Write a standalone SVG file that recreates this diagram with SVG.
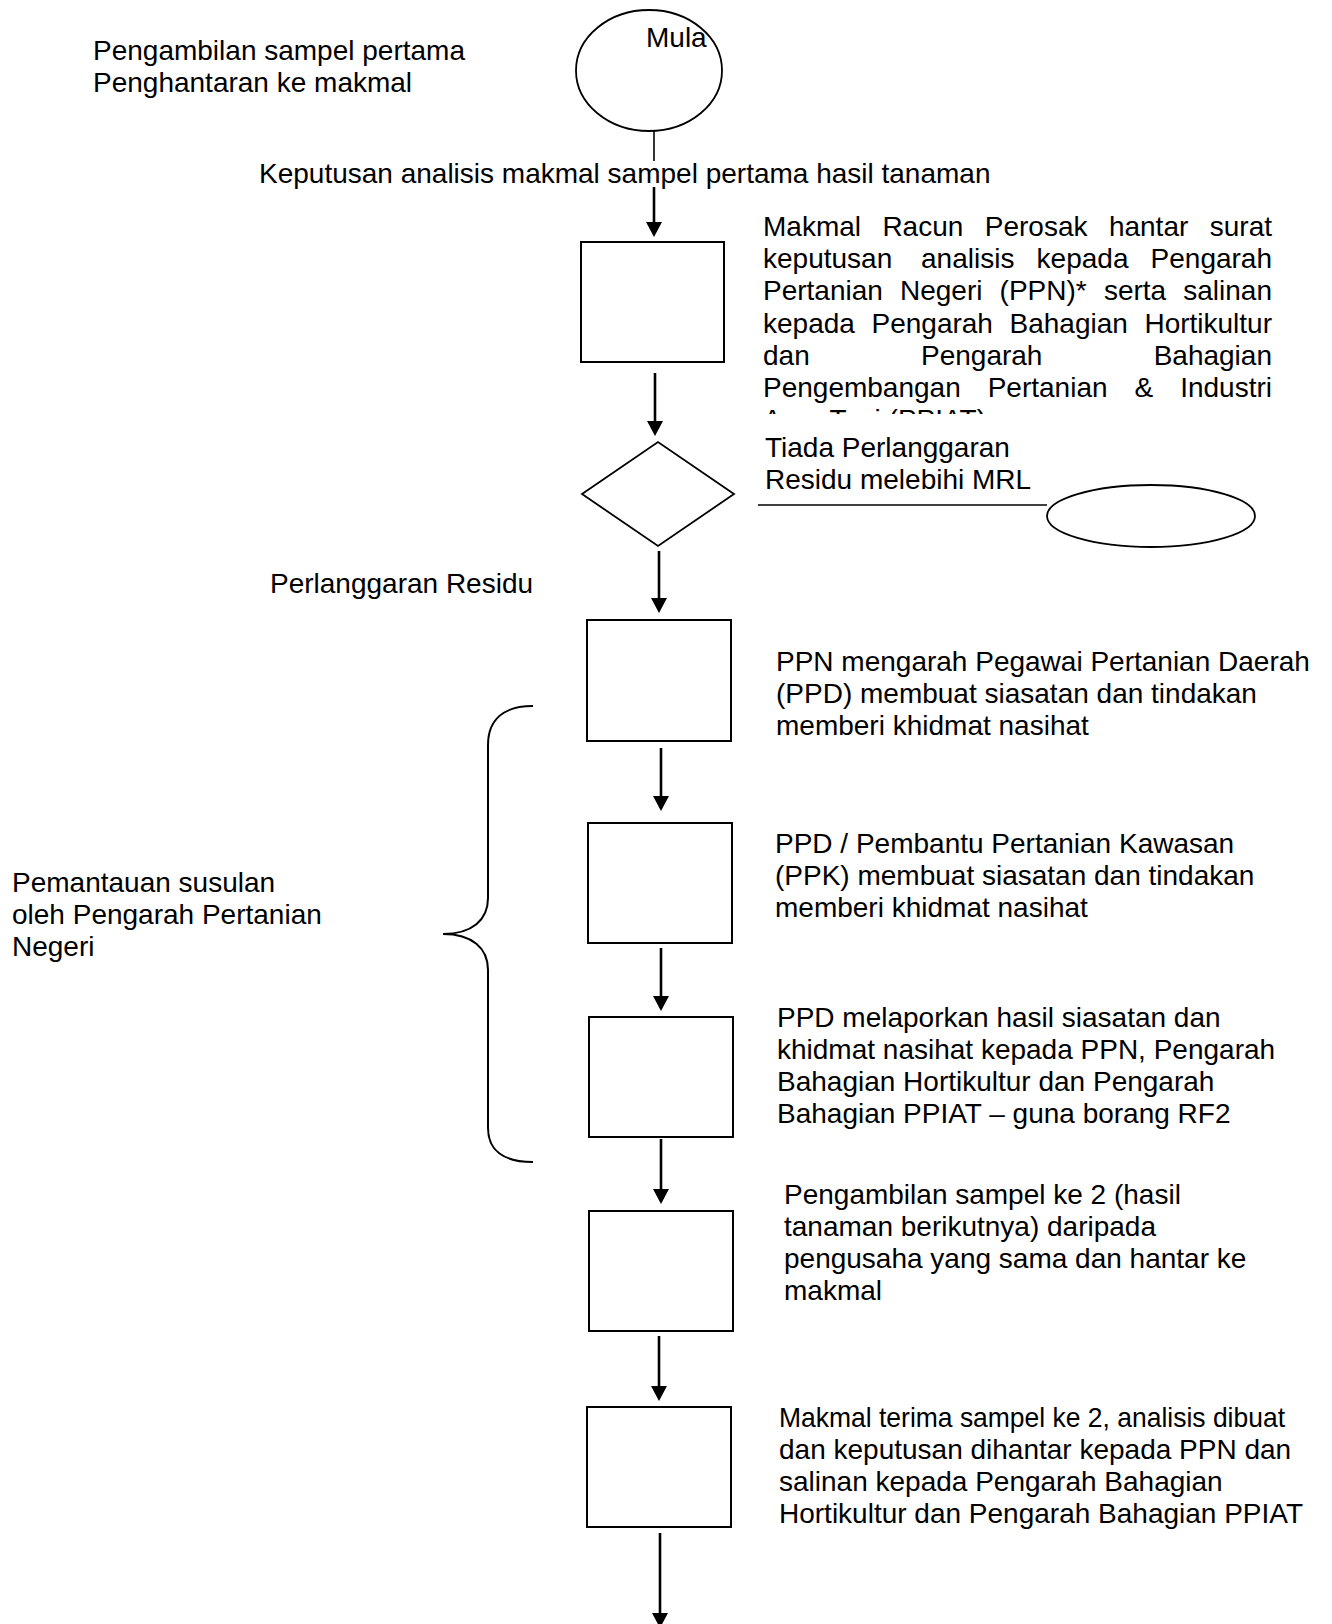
<svg xmlns="http://www.w3.org/2000/svg" width="1332" height="1624" viewBox="0 0 1332 1624">
<style>
text{font-family:"Liberation Sans",Arial,sans-serif;font-size:28px;fill:#000}
.box{fill:#fff;stroke:#000;stroke-width:2}
.shape{fill:#fff;stroke:#000;stroke-width:1.8}
.ln{stroke:#000;stroke-width:2.6;fill:none}
.thin{stroke:#000;stroke-width:1.6;fill:none}
.head{fill:#000}
.e{text-anchor:end}
</style>
<defs>
<clipPath id="clip1"><rect x="740" y="195" width="560" height="219"/></clipPath>
</defs>
<rect width="1332" height="1624" fill="#fff"/>

<g id="connectors">
<line class="thin" x1="654" y1="131" x2="654" y2="161"/>
<line class="ln" x1="654" y1="187" x2="654" y2="224"/><polygon class="head" points="646,222 662,222 654,237"/>
<line class="ln" x1="655" y1="373" x2="655" y2="423"/><polygon class="head" points="647,421 663,421 655,436"/>
<line class="thin" x1="758" y1="505" x2="1047" y2="505"/>
<line class="ln" x1="659" y1="551" x2="659" y2="600"/><polygon class="head" points="651,598 667,598 659,613"/>
<line class="ln" x1="661" y1="748" x2="661" y2="798"/><polygon class="head" points="653,796 669,796 661,811"/>
<line class="ln" x1="661" y1="948" x2="661" y2="998"/><polygon class="head" points="653,996 669,996 661,1011"/>
<line class="ln" x1="661" y1="1139" x2="661" y2="1191"/><polygon class="head" points="653,1189 669,1189 661,1204"/>
<line class="ln" x1="659" y1="1336" x2="659" y2="1388"/><polygon class="head" points="651,1386 667,1386 659,1401"/>
<line class="ln" x1="660" y1="1533" x2="660" y2="1615"/><polygon class="head" points="652,1613 668,1613 660,1628"/>
</g>

<g id="note-top">
<text x="93" y="60">Pengambilan sampel pertama</text>
<text x="93" y="92">Penghantaran ke makmal</text>
</g>

<g id="start">
<ellipse class="shape" cx="649" cy="70.5" rx="73" ry="60.5"/>
<text x="646" y="47">Mula</text>
</g>

<g id="label-keputusan">
<text x="259" y="183">Keputusan analisis makmal sampel pertama hasil tanaman</text>
</g>

<g id="box1">
<rect class="box" x="581" y="242" width="143" height="120"/>
<g clip-path="url(#clip1)">
<text x="763" y="236">Makmal</text><text x="882.4" y="236">Racun</text><text x="984.8" y="236">Perosak</text><text x="1108.9" y="236">hantar</text><text class="e" x="1272" y="236">surat</text>
<text x="763" y="268.2">keputusan</text><text x="921" y="268.2">analisis</text><text x="1036.6" y="268.2">kepada</text><text class="e" x="1272" y="268.2">Pengarah</text>
<text x="763" y="300.4">Pertanian</text><text x="900" y="300.4">Negeri</text><text x="999.6" y="300.4">(PPN)*</text><text x="1103.9" y="300.4">serta</text><text class="e" x="1272" y="300.4">salinan</text>
<text x="763" y="332.6">kepada</text><text x="871.5" y="332.6">Pengarah</text><text x="1009.5" y="332.6">Bahagian</text><text class="e" x="1272" y="332.6">Hortikultur</text>
<text x="763" y="364.8">dan</text><text x="921" y="364.8">Pengarah</text><text class="e" x="1272" y="364.8">Bahagian</text>
<text x="763" y="397">Pengembangan</text><text x="987.7" y="397">Pertanian</text><text x="1134.5" y="397">&amp;</text><text class="e" x="1272" y="397">Industri</text>
<text x="763" y="429.2">Agro Tani (PPIAT)</text>
</g>
</g>

<g id="decision">
<polygon class="shape" points="582,494 658,442 734,494 658,546"/>
<text x="765" y="457">Tiada Perlanggaran</text>
<text x="765" y="489">Residu melebihi MRL</text>
</g>

<g id="end-right">
<ellipse class="shape" cx="1151" cy="516" rx="104" ry="31"/>
</g>

<g id="label-perlanggaran">
<text x="270" y="593">Perlanggaran Residu</text>
</g>

<g id="box2">
<rect class="box" x="587" y="620" width="144" height="121"/>
<text x="776" y="671">PPN mengarah Pegawai Pertanian Daerah</text>
<text x="776" y="703">(PPD) membuat siasatan dan tindakan</text>
<text x="776" y="735">memberi khidmat nasihat</text>
</g>

<g id="box3">
<rect class="box" x="588" y="823" width="144" height="120"/>
<text x="775" y="853">PPD / Pembantu Pertanian Kawasan</text>
<text x="775" y="885">(PPK) membuat siasatan dan tindakan</text>
<text x="775" y="917">memberi khidmat nasihat</text>
</g>

<g id="box4">
<rect class="box" x="589" y="1017" width="144" height="120"/>
<text x="777" y="1027">PPD melaporkan hasil siasatan dan</text>
<text x="777" y="1059">khidmat nasihat kepada PPN, Pengarah</text>
<text x="777" y="1091">Bahagian Hortikultur dan Pengarah</text>
<text x="777" y="1123">Bahagian PPIAT – guna borang RF2</text>
</g>

<g id="box5">
<rect class="box" x="589" y="1211" width="144" height="120"/>
<text x="784" y="1204">Pengambilan sampel ke 2 (hasil</text>
<text x="784" y="1236">tanaman berikutnya) daripada</text>
<text x="784" y="1268">pengusaha yang sama dan hantar ke</text>
<text x="784" y="1300">makmal</text>
</g>

<g id="box6">
<rect class="box" x="587" y="1407" width="144" height="120"/>
<text x="779" y="1427" textLength="506" lengthAdjust="spacingAndGlyphs">Makmal terima sampel ke 2, analisis dibuat</text>
<text x="779" y="1459">dan keputusan dihantar kepada PPN dan</text>
<text x="779" y="1491">salinan kepada Pengarah Bahagian</text>
<text x="779" y="1523">Hortikultur dan Pengarah Bahagian PPIAT</text>
</g>

<g id="monitoring">
<path class="thin" style="stroke-width:2" d="M533,706 C503,706 488,720 488,745 L488,898 C488,920 472,934 443,934 C472,934 488,948 488,970 L488,1128 C488,1150 503,1162 533,1162"/>
<text x="12" y="892">Pemantauan susulan</text>
<text x="12" y="924">oleh Pengarah Pertanian</text>
<text x="12" y="956">Negeri</text>
</g>
</svg>
